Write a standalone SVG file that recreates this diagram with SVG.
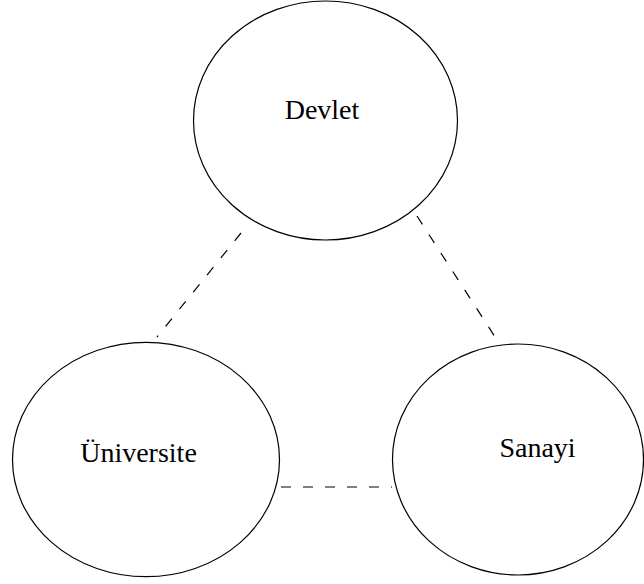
<svg xmlns="http://www.w3.org/2000/svg" width="644" height="584" viewBox="0 0 644 584">
<style>
.node ellipse{fill:#fff;stroke:#000;stroke-width:1.2}
.node text{font-family:"Liberation Serif","Times New Roman",serif;font-size:28px;fill:#000;text-anchor:middle}
.conn line{stroke:#000;stroke-width:1.2;stroke-dasharray:10 12;fill:none}
</style>
<rect width="644" height="584" fill="#fff"/>
<g id="connectors" class="conn">
<line x1="241" y1="233" x2="157" y2="337"/>
<line x1="417" y1="216" x2="497" y2="340"/>
<line x1="281" y1="487" x2="392" y2="487"/>
</g>
<g id="devlet" class="node">
<ellipse cx="325.5" cy="120.5" rx="132" ry="119.5"/>
<text x="322" y="119">Devlet</text>
</g>
<g id="universite" class="node">
<ellipse cx="146" cy="459.5" rx="133.5" ry="117.2"/>
<text x="138.5" y="462">Üniversite</text>
</g>
<g id="sanayi" class="node">
<ellipse cx="518" cy="459.5" rx="125.5" ry="115.5"/>
<text x="537.5" y="457">Sanayi</text>
</g>
</svg>
